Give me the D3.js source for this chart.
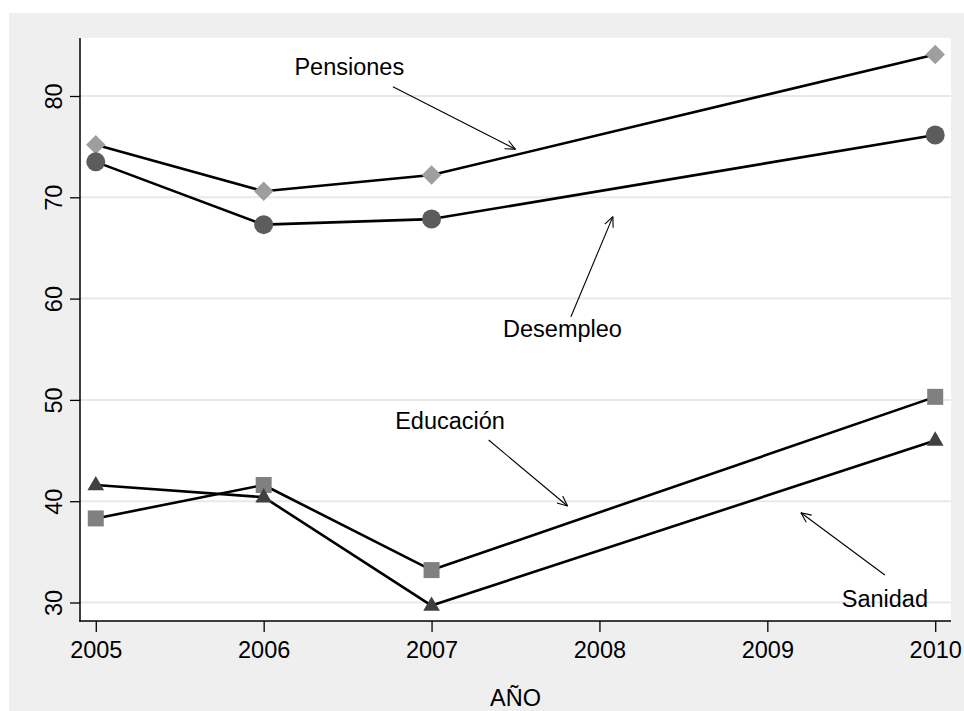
<!DOCTYPE html>
<html>
<head>
<meta charset="utf-8">
<script src="https://cdn.jsdelivr.net/npm/d3@7"></script>
<style>
  html, body { margin: 0; padding: 0; background: #ffffff; }
  svg { display: block; }
  text { font-family: "Liberation Sans", Arial, sans-serif; fill: #000; }
</style>
</head>
<body>
<svg id="chart" width="964" height="711"></svg>
<script>
// ---- data ----
const years = [2005, 2006, 2007, 2010];
const pensiones = [75.2, 70.6, 72.2, 84.1];
const desempleo = [73.5, 67.3, 67.85, 76.15];
const educacion = [38.3, 41.6, 33.2, 50.3];
const sanidad   = [41.6, 40.4, 29.7, 46.0];
const xTicks = [2005, 2006, 2007, 2008, 2009, 2010];
const yTicks = [30, 40, 50, 60, 70, 80];
const xTitle = "AÑO";
// annotation labels (data units): text position and arrow from/to
const annLabels = ["Pensiones", "Desempleo", "Educación", "Sanidad"];
const annTextX  = [2006.51, 2007.78, 2007.11, 2009.70];
const annTextY  = [82.07, 56.24, 47.1, 29.53];
const annFromX  = [2006.77, 2007.83, 2007.34, 2009.70];
const annFromY  = [80.92, 58.21, 46.04, 32.71];
const annToX    = [2007.50, 2008.08, 2007.81, 2009.20];
const annToY    = [74.74, 68.09, 39.53, 38.86];

const series = [
  { name: "Pensiones", values: pensiones, shape: "diamond", color: "#9e9e9e" },
  { name: "Desempleo", values: desempleo, shape: "circle", color: "#5c5c5c" },
  { name: "Educación", values: educacion, shape: "square", color: "#808080" },
  { name: "Sanidad",   values: sanidad,   shape: "triangle", color: "#404040" }
];

const svg = d3.select("#chart");
const plot = { left: 80, right: 951, top: 38, bottom: 621 };

const x = d3.scaleLinear().domain([2004.906, 2010.094]).range([plot.left, plot.right]);
const y = d3.scaleLinear().domain([28.174, 85.726]).range([plot.bottom, plot.top]);

// outer gray background
svg.append("rect").attr("x", 9).attr("y", 13).attr("width", 964 - 9).attr("height", 711 - 13)
  .attr("fill", "#efefef");
// plot region
svg.append("rect").attr("x", plot.left).attr("y", plot.top)
  .attr("width", plot.right - plot.left).attr("height", plot.bottom - plot.top)
  .attr("fill", "#ffffff");

// gridlines
svg.append("g").selectAll("line").data(yTicks).join("line")
  .attr("x1", plot.left).attr("x2", plot.right)
  .attr("y1", d => y(d)).attr("y2", d => y(d))
  .attr("stroke", "#e8e8e8").attr("stroke-width", 2);

// y axis
const yAxis = svg.append("g").attr("transform", `translate(${plot.left},0)`)
  .call(d3.axisLeft(y).tickValues(yTicks).tickSize(10).tickSizeOuter(0).tickFormat(d3.format("d")));
yAxis.select(".domain").remove();
yAxis.selectAll(".tick line").attr("stroke", "#000").attr("stroke-width", 1.3);
yAxis.selectAll(".tick text")
  .attr("font-size", 23.5).attr("font-family", "Liberation Sans, Arial, sans-serif")
  .attr("text-anchor", "middle").attr("dy", null).attr("x", null)
  .attr("transform", "translate(-18,0) rotate(-90)");
svg.append("line").attr("x1", plot.left).attr("x2", plot.left)
  .attr("y1", plot.top).attr("y2", plot.bottom + 0.7)
  .attr("stroke", "#000").attr("stroke-width", 1.5);

// x axis
const xAxis = svg.append("g").attr("transform", `translate(0,${plot.bottom})`)
  .call(d3.axisBottom(x).tickValues(xTicks).tickSize(11).tickSizeOuter(0).tickFormat(d3.format("d")));
xAxis.select(".domain").remove();
xAxis.selectAll(".tick line").attr("stroke", "#000").attr("stroke-width", 1.3);
xAxis.selectAll(".tick text")
  .attr("font-size", 23.5).attr("font-family", "Liberation Sans, Arial, sans-serif")
  .attr("dy", null).attr("y", 37);
svg.append("line").attr("x1", plot.left - 0.7).attr("x2", plot.right)
  .attr("y1", plot.bottom).attr("y2", plot.bottom)
  .attr("stroke", "#000").attr("stroke-width", 1.5);

// x title
svg.append("text").attr("x", (plot.left + plot.right) / 2).attr("y", 705.5)
  .attr("text-anchor", "middle").attr("font-size", 23.5).text(xTitle);

// lines
const line = d3.line().x(d => x(d[0])).y(d => y(d[1]));
series.forEach(s => {
  const pts = years.map((yr, i) => [yr, s.values[i]]);
  svg.append("path").attr("d", line(pts)).attr("fill", "none")
    .attr("stroke", "#000").attr("stroke-width", 2.6).attr("stroke-linejoin", "round");
});

// markers
const symSize = { diamond: 190, circle: 283, square: 256, triangle: 120 };
const symType = { diamond: d3.symbolSquare, circle: d3.symbolCircle, square: d3.symbolSquare, triangle: d3.symbolTriangle };
series.forEach(s => {
  const g = svg.append("g");
  years.forEach((yr, i) => {
    const sym = d3.symbol().type(symType[s.shape]).size(symSize[s.shape]);
    let tr = `translate(${x(yr)},${y(s.values[i])})`;
    if (s.shape === "diamond") tr += " rotate(45)";
    if (s.shape === "triangle") tr += " translate(0,0.5)";
    g.append("path").attr("d", sym()).attr("transform", tr).attr("fill", s.color);
  });
});

// annotations
const ann = svg.append("g");
annLabels.forEach((lab, i) => {
  ann.append("text").attr("x", x(annTextX[i])).attr("y", y(annTextY[i]))
    .attr("text-anchor", "middle").attr("font-size", 23.5).text(lab);
  const x1 = x(annFromX[i]), y1 = y(annFromY[i]);
  const x2 = x(annToX[i]), y2 = y(annToY[i]);
  ann.append("line").attr("x1", x1).attr("y1", y1).attr("x2", x2).attr("y2", y2)
    .attr("stroke", "#000").attr("stroke-width", 1.1);
  const ang = Math.atan2(y2 - y1, x2 - x1);
  const len = 11, spread = 0.42;
  [ang + Math.PI - spread, ang + Math.PI + spread].forEach(a => {
    ann.append("line").attr("x1", x2).attr("y1", y2)
      .attr("x2", x2 + len * Math.cos(a)).attr("y2", y2 + len * Math.sin(a))
      .attr("stroke", "#000").attr("stroke-width", 1.1);
  });
});
</script>
</body>
</html>
